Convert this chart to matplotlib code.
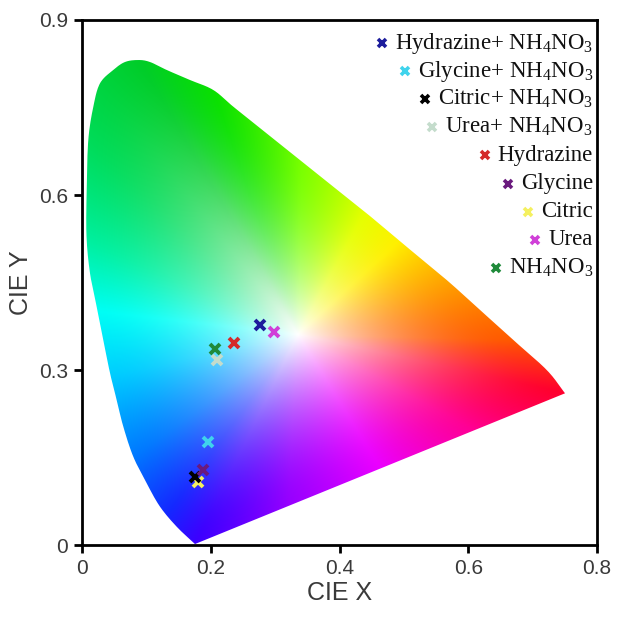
import numpy as np
import matplotlib
matplotlib.use("Agg")
import matplotlib.pyplot as plt
from matplotlib.path import Path
from matplotlib.patches import PathPatch

# Outline of the chromaticity diagram (CIE x, y)
outline_x = [0.1755, 0.1471, 0.1212, 0.1005, 0.0797, 0.0642, 0.0539, 0.0435, 0.0331, 0.0228,
             0.0124, 0.0070, 0.0073, 0.0098, 0.0176, 0.0280, 0.0486, 0.0668, 0.0875,
             0.1056, 0.1316, 0.1678, 0.2040, 0.2350, 0.2869, 0.3386, 0.3904, 0.4422, 0.5040,
             0.5665, 0.6183, 0.6700, 0.7219, 0.7503]
outline_y = [0.0017, 0.0314, 0.0657, 0.1058, 0.1514, 0.2028, 0.2486, 0.2949, 0.3514, 0.4085,
             0.4663, 0.5300, 0.6086, 0.6943, 0.7514, 0.7915, 0.8143, 0.8280, 0.8314,
             0.8280, 0.8143, 0.7971, 0.7800, 0.7514, 0.7058, 0.6600, 0.6142, 0.5686, 0.5115,
             0.4543, 0.4029, 0.3514, 0.3000, 0.2601]

# Colour anchors on the boundary (CIE x, y) and their colours
anchor_x = [0.1755, 0.130, 0.080, 0.045, 0.025, 0.008, 0.010, 0.0875, 0.204, 0.3386,
            0.440, 0.494, 0.567, 0.670, 0.7503, 0.607, 0.463, 0.319]
anchor_y = [0.0017, 0.050, 0.150, 0.290, 0.400, 0.520, 0.690, 0.831, 0.780, 0.660,
            0.570, 0.523, 0.454, 0.351, 0.2601, 0.195, 0.131, 0.066]
anchor_rgb = [(60, 0, 255), (20, 40, 255), (0, 120, 255), (0, 205, 255), (0, 255, 245),
              (0, 240, 160), (0, 220, 90), (0, 205, 40), (10, 225, 0), (120, 255, 0),
              (230, 255, 0), (255, 240, 0), (255, 165, 0), (255, 90, 0), (255, 0, 45),
              (255, 0, 150), (235, 0, 255), (150, 0, 255)]
white_xy = (0.335, 0.360)

# Samples (CIE x, y)
labels = [r"Hydrazine+ NH$_4$NO$_3$", r"Glycine+ NH$_4$NO$_3$", r"Citric+ NH$_4$NO$_3$",
          r"Urea+ NH$_4$NO$_3$", "Hydrazine", "Glycine", "Citric", "Urea", r"NH$_4$NO$_3$"]
cie_x = [0.277, 0.196, 0.176, 0.209, 0.236, 0.188, 0.180, 0.298, 0.207]
cie_y = [0.377, 0.177, 0.117, 0.317, 0.346, 0.129, 0.108, 0.365, 0.336]
colors = ["#1c1c9c", "#3fd3ec", "#000000", "#c4dccc", "#d42a2a",
          "#6a1a7e", "#f4f060", "#d040d8", "#1f8a3a"]
draw_order = [6, 2, 5, 1, 3, 8, 4, 0, 7]

plt.rcParams['mathtext.fontset'] = 'custom'
plt.rcParams['mathtext.rm'] = 'Liberation Serif'
plt.rcParams['mathtext.it'] = 'Liberation Serif:italic'

fig = plt.figure(figsize=(6.23, 6.19), dpi=100)
ax = fig.add_axes([0.1316, 0.1195, 0.8267, 0.8482])
ax.set_xlim(0, 0.8)
ax.set_ylim(0, 0.9)


def catmull_rom(px, py, n=12):
    P = np.column_stack([np.asarray(px), np.asarray(py)])
    P = np.vstack([P[0] - (P[1] - P[0]), P, P[-1] + (P[-1] - P[-2])])
    out = []
    for i in range(1, len(P) - 2):
        p0, p1, p2, p3 = P[i - 1], P[i], P[i + 1], P[i + 2]
        for s in np.linspace(0, 1, n, endpoint=False):
            s2, s3 = s * s, s * s * s
            pt = 0.5 * ((2 * p1) + (-p0 + p2) * s + (2 * p0 - 5 * p1 + 4 * p2 - p3) * s2
                        + (-p0 + 3 * p1 - 3 * p2 + p3) * s3)
            out.append(pt)
    out.append(P[-2])
    return np.array(out)


curve = catmull_rom(outline_x, outline_y)
line_s = np.linspace(0, 1, 200)[1:-1]
closing = np.column_stack([curve[-1, 0] + (curve[0, 0] - curve[-1, 0]) * line_s,
                           curve[-1, 1] + (curve[0, 1] - curve[-1, 1]) * line_s])
poly = np.vstack([curve, closing, curve[:1]])

# ---- colour field: radial blend from white point to boundary colours
wx, wy = white_xy
b_ang = np.arctan2(poly[:, 1] - wy, poly[:, 0] - wx)
b_rad = np.hypot(poly[:, 0] - wx, poly[:, 1] - wy)
o = np.argsort(b_ang)
b_ang, b_rad = b_ang[o], b_rad[o]

a_ang = np.arctan2(np.array(anchor_y) - wy, np.array(anchor_x) - wx)
oa = np.argsort(a_ang)
a_ang = a_ang[oa]
a_rgb = np.array(anchor_rgb, dtype=float)[oa] / 255.0

nx, ny = 800, 900
gx = np.linspace(0, 0.8, nx)
gy = np.linspace(0, 0.9, ny)
XX, YY = np.meshgrid(gx, gy)
ang = np.arctan2(YY - wy, XX - wx)
rad = np.hypot(XX - wx, YY - wy)
R = np.interp(ang, b_ang, b_rad, period=2 * np.pi)
tt = np.clip(rad / R, 0, 1)
t = 1 - (1 - tt) ** 1.8
img = np.ones(XX.shape + (3,))
for c in range(3):
    edge = np.interp(ang, a_ang, a_rgb[:, c], period=2 * np.pi)
    img[..., c] = 1.0 + (edge - 1.0) * t

im = ax.imshow(img, origin='lower', extent=[0, 0.8, 0, 0.9], aspect='auto',
               interpolation='bilinear', zorder=1)
patch = PathPatch(Path(poly), facecolor='none', edgecolor='none', transform=ax.transData)
ax.add_patch(patch)
im.set_clip_path(patch)

for i in draw_order:
    ax.plot(cie_x[i], cie_y[i], marker='x', ls='none', color=colors[i],
            markersize=7.5, mew=2.8, zorder=3)

# ---- legend as right-aligned text rows with markers
fig.canvas.draw()
renderer = fig.canvas.get_renderer()
row_top_px = 43.0
row_step_px = 28.1
fig_h = fig.get_size_inches()[1] * fig.dpi
text_right = 0.7935
for k, lab in enumerate(labels):
    ypix = fig_h - (row_top_px + k * row_step_px)
    yd = ax.transData.inverted().transform((0, ypix))[1]
    txt = ax.text(text_right, yd, lab, ha='right', va='center',
                  family='Liberation Serif', fontsize=16.5, color='#111111', zorder=4)
    bb = txt.get_window_extent(renderer)
    mx = ax.transData.inverted().transform((bb.x0 - 13, ypix))[0]
    ax.plot(mx, yd, marker='x', ls='none', color=colors[k], markersize=6,
            mew=2.6, zorder=4, clip_on=False)

ax.set_xticks([0, 0.2, 0.4, 0.6, 0.8])
ax.set_xticklabels(['0', '0.2', '0.4', '0.6', '0.8'])
ax.set_yticks([0, 0.3, 0.6, 0.9])
ax.set_yticklabels(['0', '0.3', '0.6', '0.9'])
for s in ax.spines.values():
    s.set_linewidth(2)
ax.tick_params(direction='out', length=6, width=2, labelsize=15,
               labelcolor='#3a3a3a', pad=4)
ax.set_xlabel('CIE X', fontsize=18, color='#3a3a3a', family='Liberation Sans', labelpad=2)
ax.set_ylabel('CIE Y', fontsize=18, color='#3a3a3a', family='Liberation Sans', labelpad=4)
for tl in ax.get_xticklabels() + ax.get_yticklabels():
    tl.set_family('Liberation Sans')

fig.savefig('out.png', dpi=100)
